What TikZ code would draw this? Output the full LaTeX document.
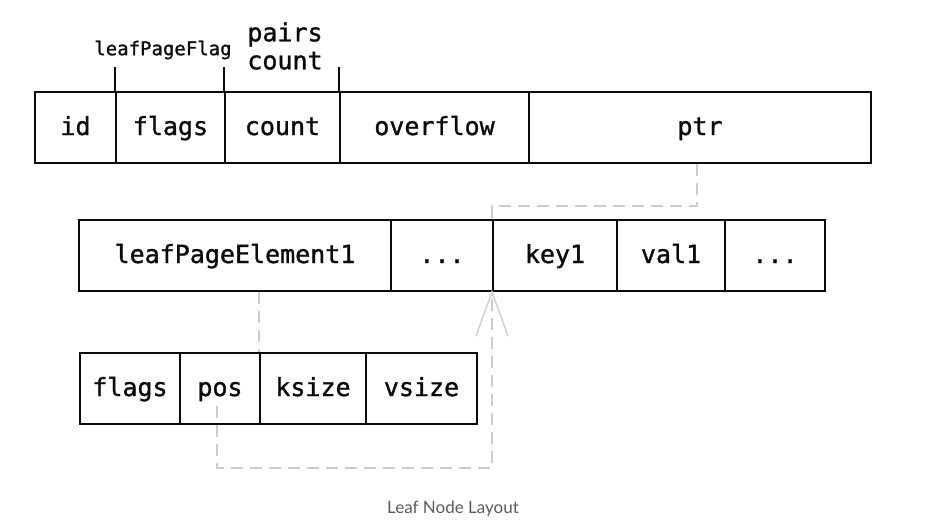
\documentclass[tikz,border=0pt]{standalone}
\usepackage{fontspec}
\setmonofont[FakeBold=1.2]{DejaVu Sans Mono}
\newfontfamily\captionfont{Lato}
\usetikzlibrary{arrows.meta,positioning,calc}
\definecolor{ink}{HTML}{0B0B0B}
\definecolor{link}{HTML}{CCCCCC}
\definecolor{linktip}{HTML}{D2D2D2}
\definecolor{sec}{HTML}{5E5A58}

\begin{document}
\begin{tikzpicture}[
    x=1pt,y=-1pt,
    font=\ttfamily\fontsize{25}{28}\selectfont,
    cell/.style={draw=ink,line width=2pt,minimum height=71pt,
        inner sep=0pt,text=ink,text height=20pt,text depth=5pt},
    tick/.style={draw=ink,line width=2pt},
    dashlink/.style={draw=link,line width=2pt,
        dash pattern=on 12pt off 7pt},
  ]
  \useasboundingbox (0,0) rectangle (942,528);

  % ============================================================= PAGE HEADER
  % #1 name  #2 left edge  #3 right edge  #4 text
  \foreach \nm/\xa/\xb/\txt in {
      id/35/116/id, flags/116/225/flags, count/225/340/count,
      overflow/340/529/overflow, ptr/529/871/ptr}{
    \node[cell,minimum width={(\xb-\xa)*1pt}] (\nm)
      at ({(\xa+\xb)/2},127.5) {\txt};
  }
  % header ticks above the field borders
  \foreach \nm in {flags,count,overflow}
    \draw[tick] (\nm.north west) -- ++(0,-24);
  \node[ink,font=\ttfamily\fontsize{19}{22}\selectfont] (flaglbl)
    at (163,50) {leafPageFlag};
  \node[ink,align=center,font=\ttfamily\fontsize{25}{28}\selectfont] (pairslbl)
    at (285,46) {pairs\\count};

  % ============================================================= ELEMENTS
  \foreach \nm/\xa/\xb/\txt in {
      elem/79/391/leafPageElement1, dotsA/391/493/{...},
      key/493/617/key1, val/617/725/val1, dotsB/725/825/{...}}{
    \node[cell,minimum width={(\xb-\xa)*1pt}] (\nm)
      at ({(\xa+\xb)/2},255.5) {\txt};
  }

  % ============================================================= ELEMENT FIELDS
  \foreach \nm/\xa/\xb/\txt in {
      eflags/80/180/flags, pos/180/260/pos,
      ksize/260/366/ksize, vsize/366/477/vsize}{
    \node[cell,minimum width={(\xb-\xa)*1pt}] (\nm)
      at ({(\xa+\xb)/2},388.5) {\txt};
  }

  % ============================================================= LINKS
  % ptr -> first key
  \draw[dashlink] ($(ptr.south)+(-3,0)$) -- ++(0,42) -| (key.north west);
  % element -> its field layout
  \draw[dashlink] (elem.south -| ksize.west) -- (ksize.north west);
  % pos -> key offset
  \draw[dashlink] ($(pos.south)+(-3,-19)$) -- ++(0,62) -| (key.south west);
  \draw[linktip,line width=1.6pt] ($(key.south west)+(-16,44)$)
    -- (key.south west) -- ($(key.south west)+(16,44)$);

  % ============================================================= CAPTION
  \node[sec,font=\captionfont\fontsize{17}{20}\selectfont] (caption)
    at (453,509) {Leaf Node Layout};
\end{tikzpicture}
\end{document}
